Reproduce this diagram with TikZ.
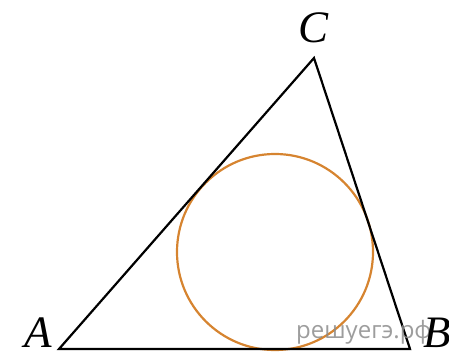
\documentclass[tikz,border=0pt]{standalone}
\usepackage{fontspec}
\setmainfont{Liberation Serif}
\newfontfamily\wmfont{Open Sans}
\definecolor{circ}{RGB}{214,132,48}
\definecolor{wm}{RGB}{140,140,140}
\begin{document}
\begin{tikzpicture}[x=1pt,y=-1pt,
  side/.style={line width=2.2pt,black,line join=miter},
  incirc/.style={line width=2.2pt,circ},
  vlabel/.style={font=\fontsize{45}{45}\selectfont\itshape,inner sep=0pt},
  wmark/.style={font=\wmfont\fontsize{24}{24}\selectfont,text=wm,inner sep=0pt,opacity=0.85}]
\useasboundingbox (0,0) rectangle (449,353);
\begin{scope}
\clip (0,0) rectangle (449,353);
\coordinate (A) at (59,349);
\coordinate (B) at (410,349);
\coordinate (C) at (314,58);
\coordinate (O) at (275,252);
\draw[incirc] (O) circle (98);
\draw[side] (A) -- (B) -- (C) -- cycle;
\node[wmark,anchor=base west] (wm) at (296,338) {решуегэ.рф};
\node[vlabel] (lc) at (314,28) {C};
\node[vlabel] (la) at (38,333) {A};
\node[vlabel] (lb) at (437,333) {B};
\end{scope}
\end{tikzpicture}
\end{document}
